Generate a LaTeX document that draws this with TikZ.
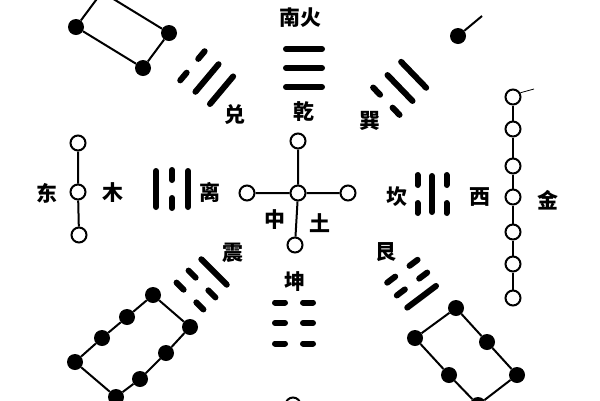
\documentclass[tikz,border=0pt]{standalone}
\usepackage{fontspec}
\newfontfamily\cjk{Noto Sans CJK SC}
\newcommand{\ysol}[1]{\draw[bar] (-18,#1) -- (18,#1);}
\newcommand{\ybrk}[1]{\draw[bar] (-19,#1) -- (-9,#1) (9,#1) -- (19,#1);}
\begin{document}
\begin{tikzpicture}[x=1bp,y=-1bp,
  wc/.style={circle, draw, line width=2bp, minimum size=15bp, inner sep=0pt, fill=white},
  bd/.style={circle, fill=black, minimum size=16bp, inner sep=0pt},
  conn/.style={line width=2bp},
  bar/.style={line width=6bp, line cap=round},
  lab/.style={font=\cjk\bfseries\fontsize{21}{21}\selectfont, inner sep=0pt}]
\useasboundingbox (0,0) rectangle (600,400);

% labels
\node[lab] (tS) at (300,18) {南火};
\node[lab] (tQian) at (304,112) {乾};
\node[lab] (tDui) at (235,115) {兑};
\node[lab] (tXun) at (370,121) {巽};
\node[lab] (tE) at (47,193) {东};
\node[lab] (tWood) at (113,193) {木};
\node[lab] (tLi) at (210,192) {离};
\node[lab] (tMid) at (275,220) {中};
\node[lab] (tEarth) at (320,223) {土};
\node[lab] (tKan) at (397,197) {坎};
\node[lab] (tW) at (480,197) {西};
\node[lab] (tMetal) at (548,200) {金};
\node[lab] (tZhen) at (233,253) {震};
\node[lab] (tGen) at (386,252) {艮};
\node[lab] (tKun) at (295,282) {坤};

% trigrams
\begin{scope}[shift={(304,68)}]\ysol{-19}\ysol{0}\ysol{19}\end{scope}
\begin{scope}[shift={(294,323)},rotate=180]\ybrk{-20.5}\ybrk{0}\ybrk{20.5}\end{scope}
\begin{scope}[shift={(207,78)},rotate=50]\ybrk{-19}\ysol{0}\ysol{19}\end{scope}
\begin{scope}[shift={(400,88)},rotate=-46]\ysol{-19}\ysol{0}\ybrk{19}\end{scope}
\begin{scope}[shift={(202,284)},rotate=135]\ybrk{-17}\ybrk{0}\ysol{17}\end{scope}
\begin{scope}[shift={(412,284)},rotate=-143]\ysol{-16}\ybrk{0}\ybrk{16}\end{scope}
\begin{scope}[shift={(172,189)},rotate=90]\ysol{-16}\ybrk{0}\ysol{16}\end{scope}
\begin{scope}[shift={(432,194)},rotate=-90]\ybrk{-14.5}\ysol{0}\ybrk{14.5}\end{scope}

% center cross (5)
\node[wc] (c) at (298,193) {};
\node[wc] (ct) at (298,141) {};
\node[wc] (cl) at (247,193) {};
\node[wc] (cr) at (348,193) {};
\node[wc] (cb) at (295,245) {};
\draw[conn] (c) -- (ct) (c) -- (cl) (c) -- (cr) (c) -- (cb);

% east (3)
\node[wc] (e1) at (78,143) {};
\node[wc] (e2) at (78,192) {};
\node[wc] (e3) at (79,235) {};
\draw[conn] (e1) -- (e2) -- (e3);

% west (7)
\foreach \i/\y in {1/97,2/129,3/166,4/197,5/232,6/264,7/298}
  \node[wc] (w\i) at (513,\y) {};
\draw[conn] (w1) -- (w2) -- (w3) -- (w4) -- (w5) -- (w6) -- (w7);
\coordinate (wstub) at (534,89);
\draw[line width=0.8bp] (w1.30) -- (wstub);

% north (1)
\node[wc] (n1) at (293,405) {};

% top-left (4)
\node[bd] (tl1) at (76,27) {};
\node[bd] (tl2) at (143,68) {};
\node[bd] (tl3) at (169,33) {};
\coordinate (tl4) at (102,-8);
\draw[conn] (tl1) -- (tl2) -- (tl3) -- (tl4) -- (tl1);

% top-right (2)
\node[bd] (tr1) at (458,36) {};
\coordinate (tr2) at (482,16);
\draw[conn] (tr1) -- (tr2);

% bottom-left (8)
\node[bd] (bl1) at (153,295) {};
\node[bd] (bl2) at (127,317) {};
\node[bd] (bl3) at (102,338) {};
\node[bd] (bl4) at (75,362) {};
\node[bd] (bl5) at (116,397) {};
\node[bd] (bl6) at (140,379) {};
\node[bd] (bl7) at (166,353) {};
\node[bd] (bl8) at (190,327) {};
\draw[conn] (bl1) -- (bl2) -- (bl3) -- (bl4) -- (bl5) -- (bl6) -- (bl7) -- (bl8) -- (bl1);

% bottom-right (6)
\node[bd] (br1) at (456,308) {};
\node[bd] (br2) at (487,342) {};
\node[bd] (br3) at (517,375) {};
\node[bd] (br4) at (478,405) {};
\node[bd] (br5) at (449,375) {};
\node[bd] (br6) at (415,338) {};
\draw[conn] (br1) -- (br2) -- (br3) -- (br4) -- (br5) -- (br6) -- (br1);
\end{tikzpicture}
\end{document}
